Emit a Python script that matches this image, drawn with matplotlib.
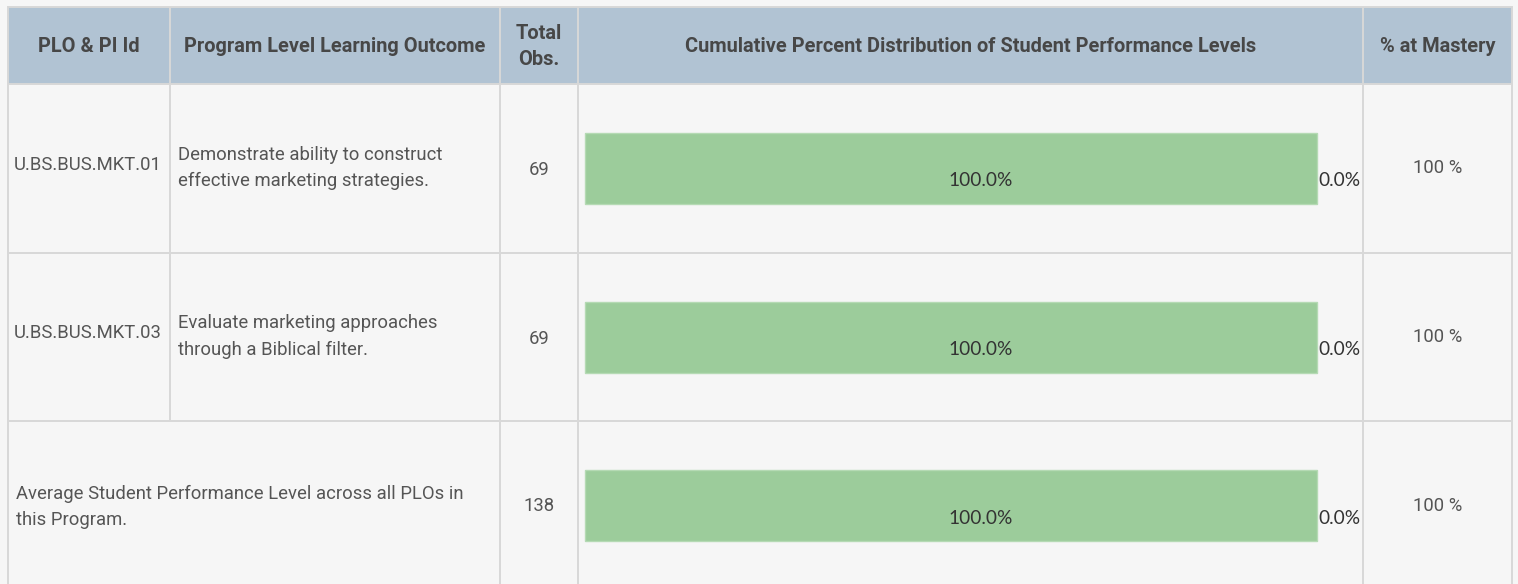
import matplotlib
matplotlib.use("Agg")
import matplotlib.pyplot as plt
from matplotlib.patches import Rectangle

# ---- data ----
plo_ids = ["U.BS.BUS.MKT.01", "U.BS.BUS.MKT.03", ""]
outcomes = ["Demonstrate ability to construct\neffective marketing strategies.",
            "Evaluate marketing approaches\nthrough a Biblical filter.",
            ""]
summary_text = "Average Student Performance Level across all PLOs in\nthis Program."
total_obs = [69, 69, 138]
mastery_pct = [100.0, 100.0, 100.0]
below_pct = [0.0, 0.0, 0.0]
mastery_label = ["100 %", "100 %", "100 %"]
headers = ["PLO & PI Id", "Program Level Learning Outcome", "Total\nObs.",
           "Cumulative Percent Distribution of Student Performance Levels", "% at Mastery"]

W, H = 1518, 584
fig = plt.figure(figsize=(W / 100, H / 100), dpi=100)
fig.patch.set_facecolor("#f6f6f6")

# table axes in pixel coordinates
tab = fig.add_axes([0, 0, 1, 1])
tab.set_xlim(0, W)
tab.set_ylim(H, 0)
tab.axis("off")

col_x = [8, 170, 500, 578, 1363, 1512]
row_y = [7, 84, 253, 421, 590]
line_c = "#d8d8d8"
hdr_c = "#b1c3d3"

tab.add_patch(Rectangle((col_x[0], row_y[0]), col_x[-1] - col_x[0], row_y[1] - row_y[0],
                        facecolor=hdr_c, edgecolor="none", zorder=1))
for y in row_y[:-1]:
    tab.plot([col_x[0], col_x[-1]], [y, y], color=line_c, lw=1.4, zorder=2)
for i, x in enumerate(col_x):
    if i == 1:
        tab.plot([x, x], [row_y[0], row_y[3]], color=line_c, lw=1.4, zorder=2)
    else:
        tab.plot([x, x], [row_y[0], H], color=line_c, lw=1.4, zorder=2)

hfont = dict(family="Roboto", fontweight="bold", fontsize=14.4, color="#474747")
for i, h in enumerate(headers):
    cx = (col_x[i] + col_x[i + 1]) / 2
    tab.text(cx, (row_y[0] + row_y[1]) / 2 + 1, h, ha="center", va="center",
             linespacing=1.45, zorder=3, **hfont)

bfont = dict(family="Roboto", fontsize=13.3, color="#555555")
for r in range(3):
    cy = (row_y[r + 1] + row_y[r + 2]) / 2
    if r < 2:
        tab.text(col_x[0] + 6, cy - 4, plo_ids[r], ha="left", va="center", zorder=3, **bfont)
        tab.text(col_x[1] + 8, cy - 0.5, outcomes[r], ha="left", va="center",
                 linespacing=1.62, zorder=3, **bfont)
        tab.text((col_x[2] + col_x[3]) / 2, cy + 1.5, str(total_obs[r]), ha="center",
                 va="center", zorder=3, **bfont)
        tab.text((col_x[4] + col_x[5]) / 2, cy - 0.5, mastery_label[r], ha="center",
                 va="center", zorder=3, **bfont)
    else:
        tab.text(col_x[0] + 8, 507, summary_text, ha="left", va="center",
                 linespacing=1.62, zorder=3, **bfont)
        tab.text((col_x[2] + col_x[3]) / 2, 506, str(total_obs[r]), ha="center",
                 va="center", zorder=3, **bfont)
        tab.text((col_x[4] + col_x[5]) / 2, 506, mastery_label[r], ha="center",
                 va="center", zorder=3, **bfont)

# bar axes over the distribution column
x0_px, x100_px = 585, 1317
ppu = (x100_px - x0_px) / 100.0
ax = fig.add_axes([col_x[3] / W, 0, (col_x[4] - col_x[3]) / W, 1])
ax.set_xlim(-(x0_px - col_x[3]) / ppu, 100 + (col_x[4] - x100_px) / ppu)
step = 168.5
ax.set_ylim((H - 168.5) / step, -168.5 / step)
ax.axis("off")
ax.patch.set_alpha(0)

ys = list(range(3))
ax.barh(ys, mastery_pct, height=71 / step, color="#9ccc9b", edgecolor="#b5dab4",
        linewidth=1, zorder=2)
ax.barh(ys, below_pct, left=mastery_pct, height=71 / step, color="#e8a0a0", zorder=2)
lfont = dict(family="Lato", fontsize=13.8, color="#333333")
for y, m, b in zip(ys, mastery_pct, below_pct):
    ax.annotate(f"{m:.1f}%", (m / 2, y), xytext=(21, -9), textcoords="offset points",
                ha="center", va="center", zorder=3, **lfont)
    ax.annotate(f"{b:.1f}%", (m + b, y), xytext=(1, -9), textcoords="offset points",
                ha="left", va="center", zorder=3, **lfont)

fig.savefig("out.png", dpi=100, facecolor=fig.get_facecolor())
